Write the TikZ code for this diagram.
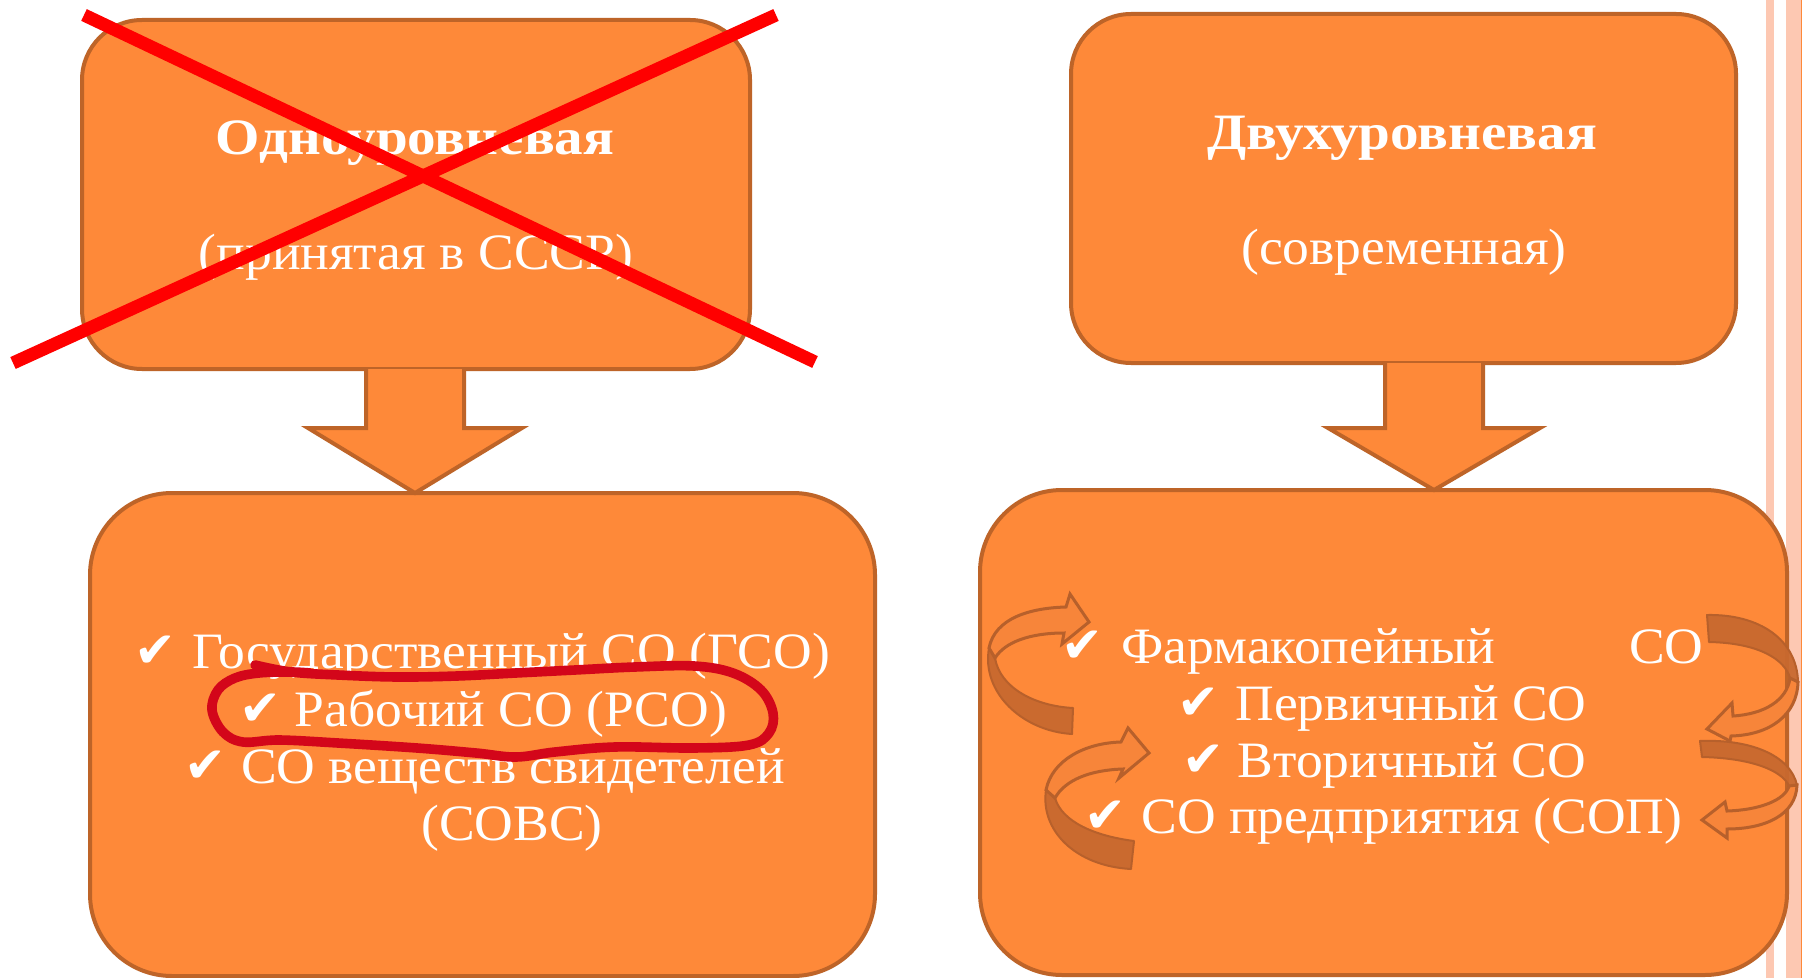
\documentclass[tikz,border=0pt]{standalone}
\usepackage{fontspec}
\setmainfont{Liberation Serif}[FakeStretch=1.05]
\newfontfamily\headfont{Liberation Serif}[FakeStretch=1.12]
\newfontfamily\chkfont{DejaVu Sans}
\usetikzlibrary{calc}

\definecolor{boxfill}{HTML}{FE8939}
\definecolor{boxline}{HTML}{BE6428}
\definecolor{stripe}{HTML}{FDC8B2}
\definecolor{crossred}{HTML}{FF0000}
\definecolor{loopred}{HTML}{D3061A}
\definecolor{ribbonback}{HTML}{C8692F}
\definecolor{ribbonline}{HTML}{B7602B}
\definecolor{ribbonfront}{HTML}{F7853A}

\tikzset{
  panel/.style={draw=boxline, fill=boxfill, line width=2pt, inner sep=0pt, outer sep=0pt},
  blockarrow/.style={draw=boxline, fill=boxfill, line width=2pt, line join=miter},
  title/.style={text=white, font=\headfont\bfseries\fontsize{25.5}{30}\selectfont, inner sep=0pt, anchor=base},
  sub/.style={text=white, font=\fontsize{25.5}{30}\selectfont, inner sep=0pt, anchor=base},
  item/.style={text=white, font=\fontsize{25.5}{30}\selectfont, inner sep=0pt, anchor=base},
  tick/.style={text=white, font=\chkfont\fontsize{25}{25}\selectfont, inner sep=0pt, anchor=base west},
  ribbonb/.style={fill=ribbonback, draw=ribbonline, line width=1pt, fill opacity=0.95, line join=round},
  ribbonf/.style={fill=ribbonfront, draw=ribbonline, line width=1.5pt, line join=miter},
  cross/.style={draw=crossred, line width=6.5pt},
  loop/.style={draw=loopred, line width=4.8pt, line cap=round, line join=round}
}

\begin{document}
\begin{tikzpicture}[x=0.5pt, y=-0.5pt]
  \useasboundingbox (0,0) rectangle (1802,978);
  \fill[white] (0,0) rectangle (1802,978);

  % decorative stripes along the right edge
  \fill[stripe] (1766,0) rectangle (1774,978);
  \fill[stripe] (1786,0) rectangle (1802,978);
  \fill[boxfill] (1801,0) rectangle (1802,978);

  % the four panels
  \node[panel, rounded corners=30pt, minimum width=334pt, minimum height=174.5pt] (t1) at (416,194.5) {};
  \node[panel, rounded corners=30pt, minimum width=332.5pt, minimum height=174.5pt] (t2) at (1403.5,188.5) {};
  \node[panel, rounded corners=41pt, minimum width=392.5pt, minimum height=241.5pt] (b1) at (482.5,734.5) {};
  \node[panel, rounded corners=41pt, minimum width=403.5pt, minimum height=242.5pt] (b2) at (1383.5,732.5) {};

  % block arrows from the upper panels to the lower ones
  \coordinate (a1top) at ($(t1.south)+(-1,0)$);
  \coordinate (a1tip) at (a1top |- b1.north);
  \filldraw[blockarrow] ($(a1top)+(-49,0)$) -- ($(a1top)+(-49,59)$) -- ($(a1top)+(-107,59)$)
    -- (a1tip) -- ($(a1top)+(107,59)$) -- ($(a1top)+(49,59)$) -- ($(a1top)+(49,0)$);
  \coordinate (a2top) at ($(t2.south)+(30.5,0)$);
  \coordinate (a2tip) at (a2top |- b2.north);
  \filldraw[blockarrow] ($(a2top)+(-49,0)$) -- ($(a2top)+(-49,65)$) -- ($(a2top)+(-106,65)$)
    -- (a2tip) -- ($(a2top)+(106,65)$) -- ($(a2top)+(49,65)$) -- ($(a2top)+(49,0)$);

  % curved ribbon arrows round the list on the right
  \path[ribbonb] (1073,708) .. controls (1035,706) and (1000,688) .. (995,658) -- (989,648)
    .. controls (981,692) and (1022,731) .. (1072,734) -- cycle;
  \path[ribbonf] (989,648) .. controls (995,618) and (1030,608) .. (1066,607) -- (1070,594) -- (1089,622)
    -- (1062,644) -- (1064,633) .. controls (1030,633) and (1005,642) .. (995,658) -- cycle;

  \path[ribbonb] (1134,841) .. controls (1095,836) and (1062,822) .. (1055,798) -- (1046,790)
    .. controls (1040,830) and (1075,866) .. (1131,869) -- cycle;
  \path[ribbonf] (1046,790) .. controls (1052,760) and (1085,743) .. (1121,742) -- (1128,728) -- (1149,753)
    -- (1119,778) -- (1123,769) .. controls (1090,770) and (1065,780) .. (1055,798) -- cycle;

  \path[ribbonb] (1707,615) .. controls (1760,614) and (1797,640) .. (1798,682) -- (1790,678)
    .. controls (1785,660) and (1760,643) .. (1709,642) -- cycle;
  \path[ribbonf] (1798,682) .. controls (1797,715) and (1770,735) .. (1731,736) -- (1730,741) -- (1707,729)
    -- (1732,703) -- (1733,716) .. controls (1765,714) and (1787,700) .. (1790,678) -- cycle;

  \path[ribbonb] (1700,741) .. controls (1750,739) and (1790,755) .. (1797,785) -- (1789,786)
    .. controls (1782,770) and (1750,758) .. (1702,757) -- cycle;
  \path[ribbonf] (1797,785) .. controls (1796,815) and (1765,829) .. (1727,829) -- (1727,838) -- (1702,820)
    -- (1725,802) -- (1727,811) .. controls (1760,810) and (1785,800) .. (1789,786) -- cycle;

  % headings
  \node[title] (h1) at (415,155) {Одноуровневая};
  \node[sub] (s1) at (416,270) {(принятая в СССР)};
  \node[title] (h2) at (1402,150) {Двухуровневая};
  \node[sub] (s2) at (1404,265) {(современная)};

  % left list
  \node[tick] (k1) at (134,667) {✔};
  \node[item] (l1) at (511,668) {Государственный СО (ГСО)};
  \node[tick] (k2) at (239,725) {✔};
  \node[item] (l2) at (511,726) {Рабочий СО (РСО)};
  \node[tick] (k3) at (184,782) {✔};
  \node[item] (l3) at (513,783) {СО веществ свидетелей};
  \node[item] (l4) at (512,840) {(СОВС)};

  % right list
  \node[tick] (k5) at (1061,662) {✔};
  \node[item, anchor=base west] (r1) at (1121,663) {Фармакопейный};
  \node[item, anchor=base east] (r1b) at (1704,663) {СО};
  \node[tick] (k6) at (1177,719) {✔};
  \node[item] (r2) at (1411,720) {Первичный СО};
  \node[tick] (k7) at (1182,776) {✔};
  \node[item] (r3) at (1412,777) {Вторичный СО};
  \node[tick] (k8) at (1084,832) {✔};
  \node[item] (r4) at (1412,833) {СО предприятия (СОП)};

  % hand-drawn loop round the working standard
  \draw[loop] plot[smooth, tension=0.6] coordinates {
    (255,665) (291,672) (338,675) (397,677) (457,676) (516,673) (575,670) (635,667) (694,666)
    (733,673) (761,690) (773,713) (769,733) (749,745) (694,748) (615,747) (555,752) (516,757)
    (476,753) (417,748) (338,743) (279,740) (243,742) (223,732) (212,710) (218,690) (235,678)
    (259,673) (291,672) (310,673)};

  % the crossing-out of the single-level scheme
  \coordinate (x1a) at (84,15);  \coordinate (x1b) at (815,362);
  \coordinate (x2a) at (13,363); \coordinate (x2b) at (776,15);
  \draw[cross] (x1a) -- (x1b);
  \draw[cross] (x2a) -- (x2b);
\end{tikzpicture}
\end{document}
